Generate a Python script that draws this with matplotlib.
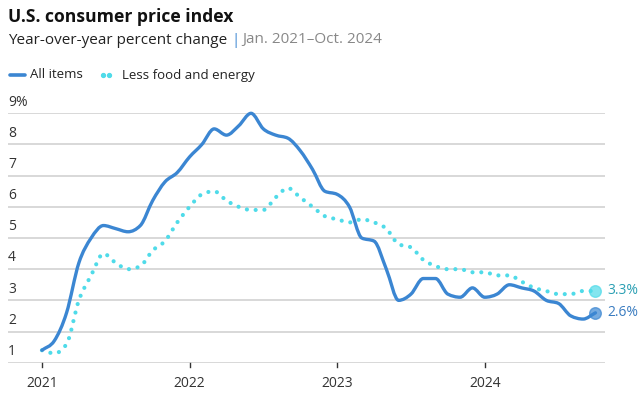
import numpy as np
import matplotlib
matplotlib.use("Agg")
import matplotlib.pyplot as plt
from matplotlib.path import Path
from matplotlib.patches import PathPatch
from matplotlib.lines import Line2D

plt.rcParams['font.family'] = ['Open Sans', 'DejaVu Sans']

# monthly YoY % change, Jan 2021 - Oct 2024
all_items = [1.4, 1.7, 2.6, 4.2, 5.0, 5.4, 5.3, 5.2, 5.4, 6.2, 6.8, 7.1,
             7.6, 8.0, 8.5, 8.3, 8.6, 9.0, 8.5, 8.3, 8.2, 7.8, 7.2, 6.5,
             6.4, 6.0, 5.0, 4.9, 4.0, 3.0, 3.2, 3.7, 3.7, 3.2, 3.1, 3.4,
             3.1, 3.2, 3.5, 3.4, 3.3, 3.0, 2.9, 2.5, 2.4, 2.6]
core = [1.4, 1.3, 1.6, 3.0, 3.8, 4.5, 4.2, 4.0, 4.1, 4.6, 4.9, 5.5,
        6.0, 6.4, 6.5, 6.2, 6.0, 5.9, 5.9, 6.3, 6.6, 6.3, 6.0, 5.7,
        5.6, 5.5, 5.6, 5.5, 5.3, 4.8, 4.7, 4.3, 4.1, 4.0, 4.0, 3.9,
        3.9, 3.8, 3.8, 3.6, 3.4, 3.3, 3.2, 3.2, 3.3, 3.3]
year_labels = ['2021', '2022', '2023', '2024']
y_ticks = [1, 2, 3, 4, 5, 6, 7, 8, 9]

blue = '#3b86d2'
cyan = '#4fdbe9'


def smooth_path(y):
    # monotone cubic bezier through the points
    y = np.asarray(y, float)
    x = np.arange(len(y))
    d = np.diff(y)
    m = np.zeros(len(y))
    m[0], m[-1] = d[0], d[-1]
    for k in range(1, len(y) - 1):
        if d[k - 1] * d[k] <= 0:
            m[k] = 0
        else:
            p = (d[k - 1] + d[k]) / 2
            m[k] = np.sign(d[k]) * min(abs(d[k - 1]), abs(d[k]), 0.5 * abs(p)) * 2
    verts = [(x[0], y[0])]
    codes = [Path.MOVETO]
    for k in range(len(y) - 1):
        verts += [(x[k] + 1/3, y[k] + m[k]/3), (x[k+1] - 1/3, y[k+1] - m[k+1]/3), (x[k+1], y[k+1])]
        codes += [Path.CURVE4] * 3
    return Path(verts, codes)


fig = plt.figure(figsize=(6.4, 3.96), dpi=100)
ax = fig.add_axes([8/640, (396-362.7)/396, 597/640, (362.7-113.3)/396])
ax.set_xlim(-2.76, -2.76 + 597/12.3)
ax.set_ylim(1, 9)
ax.axis('off')

for v in y_ticks:
    ax.axhline(v, color='#d6d6d6', lw=1.3, zorder=1)
    ax.text(0.0, v + 0.12, f'{v}%' if v == 9 else str(v), transform=ax.get_yaxis_transform(),
            fontsize=10, color='#333333', ha='left', va='bottom')

for i, lab in enumerate(year_labels):
    ax.plot([i*12, i*12], [1, 0.85], color='#333333', lw=1, clip_on=False)
    ax.text(i*12, 0.58, lab, ha='center', va='top', fontsize=10, color='#333333')

ax.add_patch(PathPatch(smooth_path(core), fill=False, edgecolor=cyan, lw=3,
                       linestyle=(0, (0.01, 2.1)), capstyle='round', zorder=3, clip_on=False))
ax.add_patch(PathPatch(smooth_path(all_items), fill=False, edgecolor=blue, lw=2.4,
                       capstyle='round', joinstyle='round', zorder=4, clip_on=False))

n = len(all_items) - 1
ax.scatter([n], [core[-1]], s=70, color=cyan, alpha=0.7, zorder=5, clip_on=False)
ax.scatter([n], [all_items[-1]], s=70, color=blue, alpha=0.7, zorder=5, clip_on=False)
ax.text(n + 1, core[-1], f'{core[-1]}%', color='#2a9fb3', fontsize=10, va='center')
ax.text(n + 1, all_items[-1], f'{all_items[-1]}%', color='#3a7cc0', fontsize=10, va='center')

fig.text(8/640, 1 - 17/396, 'U.S. consumer price index', fontsize=12.6, fontweight='bold',
         color='#111111', va='center')
t = fig.text(8/640, 1 - 40/396, 'Year-over-year percent change ', fontsize=11,
             color='#222222', va='center')
fig.canvas.draw()
bb = t.get_window_extent()
t2 = fig.text(bb.x1/640, 1 - 40/396, '|', fontsize=11, color=blue, va='center')
fig.canvas.draw()
bb2 = t2.get_window_extent()
fig.text(bb2.x1/640 + 3/640, 1 - 40/396, 'Jan. 2021–Oct. 2024', fontsize=11,
         color='#888888', va='center')

ly = 1 - 75/396
fig.add_artist(Line2D([10/640, 25/640], [ly, ly], color=blue, lw=2.6, solid_capstyle='round'))
fig.text(30/640, ly, 'All items', fontsize=9.5, color='#222222', va='center')
fig.add_artist(Line2D([103/640, 109/640], [ly, ly], color=cyan, lw=0, marker='o', ms=2.8))
fig.text(122/640, ly, 'Less food and energy', fontsize=9.5, color='#222222', va='center')

fig.savefig('out.png', dpi=100)
